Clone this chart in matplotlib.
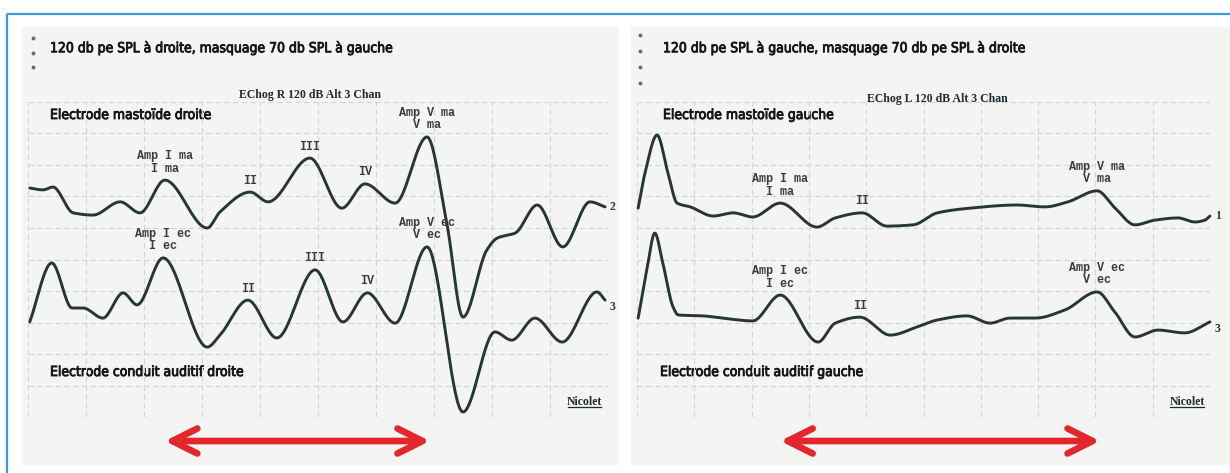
import numpy as np
import matplotlib
matplotlib.use("Agg")
import matplotlib.pyplot as plt
import matplotlib.transforms as mtransforms
import matplotlib.patheffects as pe
from matplotlib import font_manager
from matplotlib.patches import Rectangle
from matplotlib.lines import Line2D

# --- data (x: ms, 1 grid division = 1 ms ; y: grid divisions) ---
# right ear stimulation, mastoid electrode (channel 2)
t_droite_ma = [0.03, 0.26, 0.43, 0.78, 1.12, 1.59, 1.93, 2.36, 3.09, 3.31, 3.83, 4.14, 4.86,
               5.41, 5.81, 6.33, 6.88, 7.22, 7.50, 7.91, 8.09, 8.40, 8.78, 9.22, 9.69, 9.95]
v_droite_ma = [7.27, 7.21, 7.30, 6.48, 6.41, 6.83, 6.48, 7.52, 6.00, 6.51, 7.14, 6.83, 8.22,
               6.63, 7.40, 6.79, 8.89, 6.16, 3.17, 5.30, 5.68, 5.84, 6.73, 5.40, 6.83, 6.67]
# right ear stimulation, ear canal electrode (channel 3)
t_droite_ec = [0.03, 0.41, 0.76, 0.95, 1.29, 1.64, 1.88, 2.33, 3.09, 3.31, 3.79, 4.29, 4.95,
               5.43, 5.85, 6.33, 6.88, 7.50, 8.05, 8.34, 8.74, 9.21, 9.81, 9.95]
v_droite_ec = [3.02, 4.89, 3.46, 3.46, 3.14, 3.94, 3.56, 5.05, 2.22, 2.60, 3.71, 2.51, 4.67,
               3.02, 3.94, 2.98, 5.40, 0.16, 2.70, 2.44, 3.14, 2.38, 3.97, 3.71]
# left ear stimulation, mastoid electrode (channel 1)
t_gauche_ma = [0.02, 0.14, 0.35, 0.54, 0.70, 0.93, 1.33, 1.68, 2.02, 2.50, 3.14, 3.46, 3.93, 4.36,
               4.82, 5.24, 5.81, 6.63, 7.12, 7.52, 8.03, 8.34, 8.69, 9.04, 9.44, 9.74, 9.91, 10.0]
v_gauche_ma = [6.63, 7.75, 8.95, 7.75, 6.79, 6.67, 6.38, 6.48, 6.35, 6.79, 6.03, 6.32, 6.48, 6.06,
               6.10, 6.48, 6.63, 6.73, 6.67, 6.83, 7.18, 6.64, 6.10, 6.25, 6.32, 6.19, 6.25, 6.38]
# left ear stimulation, ear canal electrode (channel 3)
t_gauche_ec = [0.02, 0.18, 0.31, 0.45, 0.63, 0.72, 1.15, 1.62, 2.02, 2.50, 3.16, 3.46, 3.89, 4.42,
               4.89, 5.24, 5.76, 6.16, 6.51, 6.95, 7.47, 8.03, 8.34, 8.69, 9.09, 9.56, 10.0]
v_gauche_ec = [3.14, 4.76, 5.84, 4.89, 3.49, 3.24, 3.21, 3.11, 3.05, 3.87, 2.38, 2.98, 3.17, 2.60,
               2.86, 3.08, 3.21, 2.98, 3.14, 3.14, 3.40, 3.97, 3.33, 2.54, 2.76, 2.67, 3.02]

# peak labels: (index into the trace, text)
pics_droite_ma = [(7, "Amp I ma\nI ma"), (10, "II"), (12, "III"), (14, "IV"), (16, "Amp V ma\nV ma")]
pics_droite_ec = [(7, "Amp I ec\nI ec"), (10, "II"), (12, "III"), (14, "IV"), (16, "Amp V ec\nV ec")]
pics_gauche_ma = [(9, "Amp I ma\nI ma"), (12, "II"), (20, "Amp V ma\nV ma")]
pics_gauche_ec = [(9, "Amp I ec\nI ec"), (12, "II"), (21, "Amp V ec\nV ec")]

titres = ["120 db pe SPL à droite, masquage 70 db SPL à gauche",
          "120 db pe SPL à gauche, masquage 70 db pe SPL à droite"]
entetes = ["EChog R 120 dB Alt 3 Chan", "EChog L 120 dB Alt 3 Chan"]
electrodes_haut = ["Electrode mastoïde droite", "Electrode mastoïde gauche"]
electrodes_bas = ["Electrode conduit auditif droite", "Electrode conduit auditif gauche"]
canaux = [("2", "3"), ("1", "3")]

# fonts
noms = {f.name for f in font_manager.fontManager.ttflist}
if "Liberation Sans Narrow" in noms:
    cond = dict(family="Liberation Sans Narrow")
else:
    cond = dict(family="DejaVu Sans", stretch="condensed")
mono = "Liberation Mono" if "Liberation Mono" in noms else "DejaVu Sans Mono"
serif = "Liberation Serif" if "Liberation Serif" in noms else "DejaVu Serif"
epais = [pe.withStroke(linewidth=0.6, foreground="#161616")]

TRACE = "#253538"
ROUGE = "#e3262b"


def lisse(x, y, n=600):
    # monotone cubic (pchip) through the read points, only for drawing
    x = np.asarray(x, float)
    y = np.asarray(y, float)
    h = np.diff(x)
    d = np.diff(y) / h
    m = np.zeros_like(y)
    for k in range(1, len(x) - 1):
        if d[k - 1] * d[k] > 0:
            w1 = 2 * h[k] + h[k - 1]
            w2 = h[k] + 2 * h[k - 1]
            m[k] = (w1 + w2) / (w1 / d[k - 1] + w2 / d[k])
    m[0], m[-1] = d[0], d[-1]
    xs = np.linspace(x[0], x[-1], n)
    i = np.clip(np.searchsorted(x, xs) - 1, 0, len(h) - 1)
    s = (xs - x[i]) / h[i]
    ys = ((2 * s**3 - 3 * s**2 + 1) * y[i] + (s**3 - 2 * s**2 + s) * h[i] * m[i]
          + (-2 * s**3 + 3 * s**2) * y[i + 1] + (s**3 - s**2) * h[i] * m[i + 1])
    return xs, ys


fig = plt.figure(figsize=(12.3, 4.73), dpi=100)
fig.patch.set_facecolor("white")

# background layer in pixel units
bg = fig.add_axes([0, 0, 1, 1])
bg.set_xlim(0, 1230)
bg.set_ylim(473, 0)
bg.axis("off")
bg.add_patch(Rectangle((7, 14), 1260, 480, fill=False, edgecolor="#3b9ad8", lw=1.6))
bg.add_patch(Rectangle((22, 27), 597, 438, facecolor="#f4f4f2", edgecolor="none"))
bg.add_patch(Rectangle((631, 27), 600, 438, facecolor="#f4f4f2", edgecolor="none"))
bg.plot([33, 33, 33], [38, 53, 67], ls="none", marker="o", ms=1.8, color="#6a6a6a")
bg.plot([640, 640, 640, 640], [35, 51, 67, 83], ls="none", marker="o", ms=1.8, color="#6a6a6a")

panneaux = [
    ([28 / 1230, 56 / 473, 580 / 1230, 315 / 473], 50, 0.486, 1.022,
     (t_droite_ma, v_droite_ma, pics_droite_ma), (t_droite_ec, v_droite_ec, pics_droite_ec)),
    ([637 / 1230, 56 / 473, 573 / 1230, 315 / 473], 663, 0.525, 1.009,
     (t_gauche_ma, v_gauche_ma, pics_gauche_ma), (t_gauche_ec, v_gauche_ec, pics_gauche_ec)),
]

soulignes = []
for k, (rect, x_txt, xe, ye, haut, bas) in enumerate(panneaux):
    ax = fig.add_axes(rect)
    ax.set_xlim(0, 10)
    ax.set_ylim(0, 10)
    ax.set_xticks(range(11))
    ax.set_yticks(range(11))
    ax.tick_params(length=0, labelbottom=False, labelleft=False)
    for sp in ax.spines.values():
        sp.set_visible(False)
    ax.patch.set_visible(False)
    ax.grid(True, color="#d4d4d4", lw=0.8, ls=(0, (5, 3)))

    for (t, v, pics), canal, dy in zip((haut, bas), canaux[k], (0, -5)):
        ax.plot(*lisse(t, v), color=TRACE, lw=2.1, solid_capstyle="round", clip_on=False)
        for i, txt in pics:
            ax.annotate(txt, (t[i], v[i]), xytext=(0, 4), textcoords="offset points",
                        ha="center", va="bottom", fontsize=8.5, family=mono,
                        fontweight="bold", color="#3c3c3c", linespacing=1.05)
        ax.annotate(canal, (t[-1], v[-1]), xytext=(3.5, dy), textcoords="offset points",
                    ha="left", va="center", fontsize=8.5, family=serif, fontweight="bold",
                    color="#333333")

    ax.text(xe, ye, entetes[k], transform=ax.transAxes, ha="center", va="center",
            fontsize=8.5, family=serif, fontweight="bold", color="#1e2a30")
    nic = ax.text(0.96, 0.03, "Nicolet", transform=ax.transAxes, ha="center", va="bottom",
                  fontsize=8.5, family=serif, fontweight="bold", color="#1e2a30")
    soulignes.append(nic)

    # red double arrow spanning wave I to wave V
    t, v, pics = haut
    tr = mtransforms.blended_transform_factory(ax.transData, fig.transFigure)
    y_fl = 1 - 441 / 473
    ax.annotate("", xy=(t[pics[-1][0]] + 0.05, y_fl), xytext=(t[pics[0][0]], y_fl),
                xycoords=tr, textcoords=tr, annotation_clip=False,
                arrowprops=dict(arrowstyle="<->,head_length=1.8,head_width=0.9",
                                color=ROUGE, lw=4.8, shrinkA=0, shrinkB=0))

    for y_txt, txt, dx in ((48, titres[k], 0), (115, electrodes_haut[k], 0),
                           (372, electrodes_bas[k], 0 if k == 0 else -3)):
        bg.text(x_txt + dx, y_txt, txt, ha="left", va="center", fontsize=10,
                color="#161616", path_effects=epais, **cond)

# underline "Nicolet"
fig.canvas.draw()
for nic in soulignes:
    bb = nic.get_window_extent()
    fig.add_artist(Line2D([bb.x0 + 1, bb.x1 - 1], [bb.y0 + 1, bb.y0 + 1], lw=0.9,
                          color="#1e2a30", transform=mtransforms.IdentityTransform()))

fig.savefig("out.png", dpi=100, facecolor="white")
